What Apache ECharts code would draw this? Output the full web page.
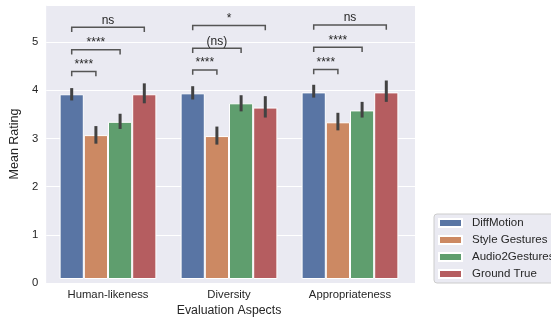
<!DOCTYPE html>
<html><head><meta charset="utf-8">
<script src="https://cdn.jsdelivr.net/npm/echarts@6/dist/echarts.min.js"></script>
<style>html,body{margin:0;padding:0;background:#fff}#c{width:551px;height:322px}</style>
</head><body><div id="c"></div>
<script>
const categories = ['Human-likeness', 'Diversity', 'Appropriateness'];
const seriesNames = ['DiffMotion', 'Style Gestures', 'Audio2Gestures', 'Ground True'];
const diffMotion = [3.89, 3.91, 3.93];
const styleGestures = [3.03, 3.01, 3.30];
const audio2Gestures = [3.31, 3.70, 3.55];
const groundTrue = [3.89, 3.61, 3.93];
const diffMotionCI = [[3.76, 4.02], [3.78, 4.06], [3.82, 4.09]];
const styleGesturesCI = [[2.85, 3.22], [2.83, 3.21], [3.13, 3.50]];
const audio2GesturesCI = [[3.16, 3.48], [3.53, 3.87], [3.40, 3.73]];
const groundTrueCI = [[3.70, 4.12], [3.40, 3.85], [3.73, 4.18]];
const yTicks = [0, 1, 2, 3, 4, 5];
const yMax = 5.77;
// [group, barA, barB, height, label]
const annotations = [
  [0, 0, 1, 4.37, '****'], [0, 0, 2, 4.83, '****'], [0, 0, 3, 5.30, 'ns'],
  [1, 0, 1, 4.40, '****'], [1, 0, 2, 4.86, '(ns)'], [1, 0, 3, 5.34, '*'],
  [2, 0, 1, 4.41, '****'], [2, 0, 2, 4.88, '****'], [2, 0, 3, 5.35, 'ns']
];
const bracketDrop = 0.1;

const colors = ['#5975A4', '#CC8963', '#5F9E6E', '#B55D60'];
const values = [diffMotion, styleGestures, audio2Gestures, groundTrue];
const cis = [diffMotionCI, styleGesturesCI, audio2GesturesCI, groundTrueCI];
const FONT = "'Liberation Sans', Arial, sans-serif";
const TXT = '#262626';

const errData = [];
cis.forEach((arr, s) => arr.forEach((ci, g) => errData.push([g, s, ci[0], ci[1]])));

const chart = echarts.init(document.getElementById('c'), null, {renderer: 'canvas'});
const barSeries = seriesNames.map((n, i) => ({
  name: n, type: 'bar', xAxisIndex: 1, yAxisIndex: 1,
  data: values[i], barGap: '0%', barCategoryGap: '20%',
  itemStyle: {color: colors[i], borderColor: '#ffffff', borderWidth: 1},
  emphasis: {disabled: true}, z: 2
}));

function offset(b, band) { return (b - 1.5) * 0.2 * band; }

chart.setOption({
  animation: false,
  textStyle: {fontFamily: FONT},
  grid: [
    {left: 43, top: 5, width: 372, height: 278, show: true, backgroundColor: '#EAEAF2', borderWidth: 0},
    {left: 47.5, top: 5, width: 363, height: 278}
  ],
  xAxis: [
    {gridIndex: 0, type: 'value', show: false, min: 0, max: 1},
    {gridIndex: 1, type: 'category', data: categories,
     axisLine: {show: false}, axisTick: {show: false}, splitLine: {show: false},
     axisLabel: {fontSize: 11.3, color: TXT, margin: 10, fontFamily: FONT},
     name: 'Evaluation Aspects', nameLocation: 'middle', nameGap: 26,
     nameTextStyle: {fontSize: 12.3, color: TXT, fontFamily: FONT}}
  ],
  yAxis: [
    {gridIndex: 0, type: 'value', min: 0, max: yMax, interval: 1,
     axisLine: {show: false}, axisTick: {show: false},
     splitLine: {show: true, lineStyle: {color: '#ffffff', width: 1}},
     axisLabel: {fontSize: 11.3, color: TXT, margin: 8, fontFamily: FONT, showMaxLabel: false,
       formatter: v => yTicks.includes(v) ? String(v) : ''},
     name: 'Mean Rating', nameLocation: 'middle', nameGap: 19,
     nameTextStyle: {fontSize: 12.5, color: TXT, fontFamily: FONT}},
    {gridIndex: 1, type: 'value', min: 0, max: yMax, show: false, splitLine: {show: false}}
  ],
  legend: {
    data: seriesNames, orient: 'vertical', left: 434, top: 214,
    backgroundColor: '#EAEAF2', borderColor: '#cccccc', borderWidth: 1, borderRadius: 3,
    padding: [3, 5, 3, 4], itemWidth: 23, itemHeight: 8, itemGap: 5, icon: 'rect',
    textStyle: {fontSize: 11.5, color: TXT, fontFamily: FONT, padding: [0, 0, 0, 5]},
    selectedMode: false
  },
  series: barSeries.concat([
    {
      type: 'custom', xAxisIndex: 1, yAxisIndex: 1, z: 5, silent: true,
      data: errData,
      renderItem(params, api) {
        const g = api.value(0), s = api.value(1);
        const band = api.size([1, 0])[0];
        const p1 = api.coord([g, api.value(2)]);
        const p2 = api.coord([g, api.value(3)]);
        const x = p1[0] + offset(s, band);
        return {type: 'line', shape: {x1: x, y1: p1[1], x2: x, y2: p2[1]},
          style: {stroke: '#424242', lineWidth: 3}};
      }
    },
    {
      type: 'custom', xAxisIndex: 1, yAxisIndex: 1, z: 6, silent: true, clip: false,
      data: annotations.map(a => [a[0], a[1], a[2], a[3]]),
      renderItem(params, api) {
        const g = api.value(0), a = api.value(1), b = api.value(2), y = api.value(3);
        const band = api.size([1, 0])[0];
        const c = api.coord([g, y]);
        const c2 = api.coord([g, y - bracketDrop]);
        const xa = c[0] + offset(a, band), xb = c[0] + offset(b, band);
        return {type: 'group', children: [
          {type: 'polyline', shape: {points: [[xa, c2[1]], [xa, c[1]], [xb, c[1]], [xb, c2[1]]]},
           style: {stroke: '#555555', lineWidth: 1.5, fill: null}},
          {type: 'text', x: (xa + xb) / 2, y: c[1] - 1,
           style: {text: annotations[params.dataIndex][4], align: 'center', verticalAlign: 'bottom',
                   font: '12px ' + FONT, fill: TXT}}
        ]};
      }
    }
  ])
});
</script>
</body></html>
